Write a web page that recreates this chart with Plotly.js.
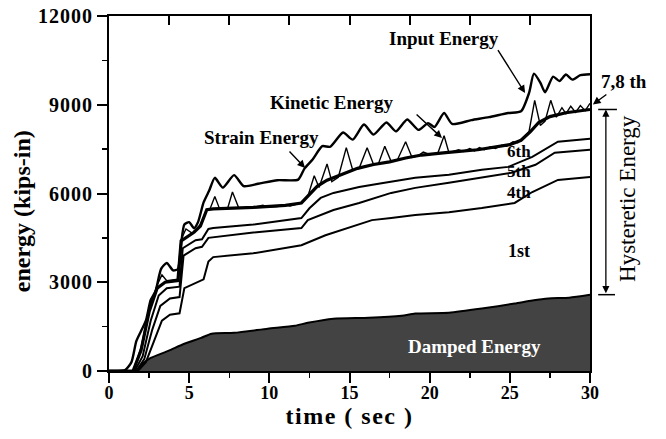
<!DOCTYPE html>
<html><head><meta charset="utf-8">
<script src="https://cdn.plot.ly/plotly-3.0.1.min.js"></script>
<style>
body{margin:0;background:#fff}
.xtitle{letter-spacing:1.5px}
.ytick text{letter-spacing:1px}
</style>
</head><body><div id="chart" style="width:666px;height:439px"></div>
<script>
// ---- data (time in sec, energy in kips-in) ----
var tInput = [0,1.0,1.4,1.7,2.0,2.3,2.6,2.9,3.25,3.6,4.0,4.3,4.5,4.7,5.0,5.3,5.55,5.9,6.25,6.6,7.1,7.8,8.4,9.3,10.5,11.8,12.2,12.7,13.3,13.8,14.6,15.2,15.9,16.5,17.3,17.9,18.6,19.3,19.9,20.3,20.9,21.4,22.6,23.7,24.9,25.7,26.2,26.5,26.9,27.2,27.7,28.1,28.5,28.9,29.4,30];
var inputEnergy = [0,30,300,1000,1350,1700,2400,2700,3450,3650,3400,3450,4300,4950,5030,4830,5030,5700,6100,6530,6200,6620,6250,6330,6450,6470,6850,7150,7600,7580,8060,7820,8330,7990,8400,8100,8500,8150,8380,8250,8720,8350,8480,8580,8720,8780,9400,10050,9750,9420,9950,9800,10020,9850,10000,10030];

var tKinetic = [0,1.5,2.0,2.5,3.0,3.3,3.6,4.3,4.5,4.8,5.2,5.7,6.1,6.3,6.6,6.9,7.4,7.7,8.1,9.0,9.6,9.9,10.5,11.0,11.3,12.0,12.4,12.8,13.1,13.6,13.9,14.3,14.8,15.2,15.6,16.1,16.5,16.8,17.2,17.6,18.0,18.5,18.9,19.3,19.6,20.0,20.5,20.9,21.2,21.8,22.1,22.5,22.8,23.1,23.4,23.8,24.1,24.5,24.8,25.2,25.5,25.9,26.2,26.55,26.9,27.2,27.55,27.9,28.25,28.5,28.8,29.1,29.4,29.7,30];
var kineticStrain = [0,0,800,2100,2900,3250,3050,3100,4450,4800,4650,4950,5450,5480,5900,5480,5500,6050,5500,5530,5600,5540,5560,5620,5580,5680,5900,6600,6200,7000,6400,6550,7550,6800,6850,7550,6980,7000,7600,7080,7150,7750,7220,7280,7400,7320,7350,7950,7380,7480,7420,7520,7440,7550,7480,7580,7520,7630,7600,7750,7720,7950,8100,9150,8300,8450,9150,8580,8900,8700,8950,8740,8970,8800,9050];

var t78 = [0,1.5,2.0,2.5,3.0,3.5,4.3,4.5,5.3,5.7,6.1,6.5,9.0,11.0,12.0,12.4,13.0,13.6,14.5,15.5,16.5,17.5,18.5,19.5,21.0,23.0,25.0,25.7,26.3,26.8,27.5,28.5,30];
var hyst78 = [0,0,700,2000,2800,3000,3060,4400,4690,4900,5450,5480,5530,5600,5680,5900,6250,6450,6650,6850,6980,7070,7200,7300,7380,7480,7650,7800,8100,8400,8600,8730,8840];

var t6 = [0,1.6,2.1,2.6,3.1,3.6,4.4,4.6,5.4,5.8,6.2,6.5,9.0,12.0,12.5,13.2,14.0,15.6,17.0,19.1,21.2,23.25,24.9,26.4,28.0,30];
var hyst6 = [0,0,500,1700,2550,2800,2850,4150,4420,4450,4800,4830,4950,5170,5500,5850,6020,6220,6350,6530,6630,6800,6900,7240,7750,7850];

var t5 = [0,1.7,2.2,2.7,3.2,3.8,4.4,4.65,5.4,5.8,6.2,6.5,9.0,12.0,12.4,14.0,15.6,17.6,19.1,21.2,23.25,25.1,26.6,27.8,30];
var hyst5 = [0,0,400,1400,2200,2450,2500,3900,4150,4200,4500,4520,4680,4830,5100,5440,5680,6020,6190,6360,6530,6700,6970,7380,7480];

var t4 = [0,1.8,2.3,2.8,3.3,3.8,4.4,4.7,5.5,5.9,6.2,6.5,9.0,12.0,13.5,15.1,16.4,17.6,19.1,21.2,23.25,25.3,26.4,28.0,30];
var hyst4 = [0,0,300,1000,1700,1900,1950,2800,3000,3100,3700,3850,3980,4250,4590,4860,5100,5170,5270,5370,5510,5680,6050,6460,6560];

var tDamped = [0,1.7,2.0,2.6,3.7,4.7,5.75,6.4,7.8,9.9,11.6,12.4,14.0,16.2,18.25,19.1,21.2,23.25,25.3,26.4,27.4,28.7,30];
var dampedEnergy = [0,0,200,440,680,920,1120,1260,1290,1430,1530,1630,1770,1800,1870,1940,1970,2110,2280,2380,2450,2480,2580];

var xTicks = [0,5,10,15,20,25,30];
var yTicks = [0,3000,6000,9000,12000];
var yTickText = ['0','3000','6000','9000','12000'];

// ---- drawing ----
var SERIF = '"Liberation Serif", "Times New Roman", serif';
var X_MAX = 30, Y_MAX = 12000;
var PLOT_H = 439 - 16 - 68;
function ln(x, y, w, shape) {
  return {x: x, y: y, mode: 'lines', hoverinfo: 'skip',
          line: {color: '#000', width: w, shape: shape || 'linear', smoothing: 0.6}};
}
var damp = ln(tDamped, dampedEnergy, 2, 'spline');
damp.fill = 'tozeroy'; damp.fillcolor = '#434343';
var traces = [
  damp,
  ln(t4, hyst4, 2),
  ln(t5, hyst5, 2),
  ln(t6, hyst6, 2),
  ln(tKinetic, kineticStrain, 1.4),
  ln(t78, hyst78, 3.2),
  ln(tInput, inputEnergy, 2.4, 'spline'),
  {x: [], y: [], xaxis: 'x2', yaxis: 'y', mode: 'lines', hoverinfo: 'skip'}
];

var hystTop = hyst78[hyst78.length - 1];
var hystBot = dampedEnergy[dampedEnergy.length - 1];
var arrowLen = (hystTop - hystBot) / Y_MAX * PLOT_H;

function lab(text, x, y, opts) {
  var a = {text: text, x: x, y: y, xref: 'x', yref: 'y', showarrow: false,
           xanchor: 'center', yanchor: 'middle',
           font: {family: SERIF, size: 19, color: '#000', weight: 'bold'}};
  for (var k in (opts || {})) a[k] = opts[k];
  return a;
}
function arr(x, y, ax, ay) {
  return {text: '', x: x, y: y, ax: ax, ay: ay, xref: 'x', yref: 'y', axref: 'x', ayref: 'y',
          showarrow: true, arrowhead: 2, arrowsize: 1.1, arrowwidth: 1.4, arrowcolor: '#000'};
}
var smallFont = {family: SERIF, size: 17, color: '#000', weight: 'bold'};

var annotations = [
  lab('Input Energy', 20.9, 11250),
  lab('Kinetic Energy', 13.9, 9060),
  lab('Strain Energy', 9.5, 7910),
  lab('6th', 25.6, 7420, {font: smallFont}),
  lab('5th', 25.6, 6760, {font: smallFont}),
  lab('4th', 25.6, 6020, {font: smallFont}),
  lab('1st', 25.6, 4050, {font: {family: SERIF, size: 18, color: '#000', weight: 'bold'}}),
  lab('Damped Energy', 22.8, 840, {font: {family: SERIF, size: 19, color: '#fff', weight: 'bold'}}),
  lab('7,8 th', 1.071, 9800, {xref: 'paper'}),
  lab('Hysteretic Energy', 1.079, 5850, {xref: 'paper', textangle: -90,
      font: {family: SERIF, size: 23, color: '#000'}}),
  lab('energy (kips-in)', -0.181, 0.45, {xref: 'paper', yref: 'paper', textangle: -90,
      font: {family: SERIF, size: 24, color: '#000', weight: 'bold'}}),
  arr(25.95, 9397, 24.2, 10900),
  arr(20.77, 7876, 19.09, 8721),
  arr(12.23, 6862, 11.17, 7471),
  {text: '', x: 1.006, y: 9010, xref: 'paper', yref: 'y', ax: 15, ay: -11,
   showarrow: true, arrowhead: 2, arrowsize: 1.1, arrowwidth: 1.4, arrowcolor: '#000'},
  {text: '', x: 1.033, y: hystTop, xref: 'paper', yref: 'y', ax: 0, ay: arrowLen,
   showarrow: true, arrowhead: 2, startarrowhead: 2, arrowside: 'end+start',
   arrowsize: 1.1, startarrowsize: 1.1, arrowwidth: 1.3, arrowcolor: '#000'}
];

var shapes = [
  {type: 'line', xref: 'paper', yref: 'paper', x0: 1.017, x1: 1.056,
   y0: hystTop / Y_MAX, y1: hystTop / Y_MAX, line: {color: '#000', width: 1.5}},
  {type: 'line', xref: 'paper', yref: 'paper', x0: 1.017, x1: 1.052,
   y0: hystBot / Y_MAX, y1: hystBot / Y_MAX, line: {color: '#000', width: 1.5}}
];

var layout = {
  width: 666, height: 439,
  margin: {l: 109, r: 76, t: 16, b: 68},
  paper_bgcolor: '#fff', plot_bgcolor: '#fff', showlegend: false,
  xaxis: {range: [0, X_MAX], tickvals: xTicks, ticks: 'outside', ticklen: 10, tickwidth: 2,
          tickcolor: '#000', showline: true, linecolor: '#000', linewidth: 2, mirror: true,
          showgrid: false, zeroline: false, ticklabelstandoff: -6,
          tickfont: {family: SERIF, size: 18, color: '#000', weight: 'bold'},
          minor: {dtick: 2.5, ticks: 'outside', ticklen: 5, tickwidth: 1.5, tickcolor: '#000', showgrid: false},
          title: {text: 'time ( sec )', font: {family: SERIF, size: 24, color: '#000', weight: 'bold'}, standoff: 2}},
  xaxis2: {overlaying: 'x', side: 'top', anchor: 'y', range: [0, 8], dtick: 1, ticks: 'inside',
           ticklen: 9, tickwidth: 2, tickcolor: '#000', showticklabels: false, showgrid: false,
           zeroline: false, showline: false},
  yaxis: {range: [0, Y_MAX], tickvals: yTicks, ticktext: yTickText, ticks: 'outside', ticklen: 10, tickwidth: 2,
          tickcolor: '#000', showline: true, linecolor: '#000', linewidth: 2, mirror: true,
          showgrid: false, zeroline: false,
          tickfont: {family: SERIF, size: 20, color: '#000', weight: 'bold'},
          minor: {dtick: 1500, ticks: 'outside', ticklen: 5, tickwidth: 1.5, tickcolor: '#000', showgrid: false}},
  annotations: annotations,
  shapes: shapes
};
Plotly.newPlot('chart', traces, layout, {staticPlot: true, displayModeBar: false});
</script>
</body></html>
